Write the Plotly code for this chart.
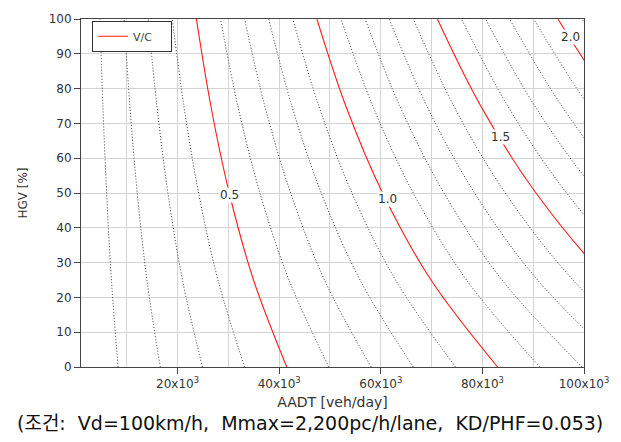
import plotly.graph_objects as go

# HGV share [%] at which each contour line was read
hgv = [0, 25, 50, 75, 100]

# V/C contour levels
vc_levels = [0.1, 0.2, 0.3, 0.4, 0.5, 0.6, 0.7, 0.8, 0.9, 1.0, 1.1,
             1.2, 1.3, 1.4, 1.5, 1.6, 1.7, 1.8, 1.9, 2.0, 2.1]

# AADT [x10^3 veh/day] of each V/C line at the HGV values above
aadt_k = [
    [8.3, 6.99, 6.04, 5.31, 4.74],
    [16.6, 13.98, 12.07, 10.62, 9.49],
    [24.9, 20.97, 18.11, 15.94, 14.23],
    [33.2, 27.96, 24.15, 21.25, 18.97],
    [41.5, 34.95, 30.18, 26.56, 23.71],
    [49.8, 41.94, 36.22, 31.87, 28.46],
    [58.1, 48.93, 42.26, 37.18, 33.20],
    [66.4, 55.92, 48.29, 42.50, 37.94],
    [74.7, 62.91, 54.33, 47.81, 42.69],
    [83.0, 69.89, 60.36, 53.12, 47.43],
    [91.3, 76.88, 66.40, 58.43, 52.17],
    [99.6, 83.87, 72.44, 63.74, 56.91],
    [107.9, 90.86, 78.47, 69.06, 61.66],
    [116.2, 97.85, 84.51, 74.37, 66.40],
    [124.5, 104.84, 90.55, 79.68, 71.14],
    [132.8, 111.83, 96.58, 84.99, 75.89],
    [141.1, 118.82, 102.62, 90.30, 80.63],
    [149.4, 125.81, 108.66, 95.62, 85.37],
    [157.7, 132.80, 114.69, 100.93, 90.11],
    [166.0, 139.79, 120.73, 106.24, 94.86],
    [174.3, 146.78, 126.76, 111.55, 99.60],
]

# Labelled (red) levels and their label positions
red_levels = [0.5, 1.0, 1.5, 2.0]
label_text = ["0.5", "1.0", "1.5", "2.0"]
label_x = [30.3, 61.3, 83.6, 97.3]
label_y = [49.3, 48.4, 66.2, 94.9]

x_tickvals = [20, 40, 60, 80, 100]
x_ticktext = ["20x10<sup>3</sup>", "40x10<sup>3</sup>", "60x10<sup>3</sup>",
              "80x10<sup>3</sup>", "100x10<sup>3</sup>"]

caption = ("(조건:\u00a0\u00a0Vd=100km/h,\u00a0\u00a0Mmax=2,200pc/h/lane,"
           "\u00a0\u00a0KD/PHF=0.053)")

fig = go.Figure()

# dotted lines first
for lvl, xs in zip(vc_levels, aadt_k):
    if any(abs(lvl - r) < 1e-9 for r in red_levels):
        continue
    fig.add_trace(go.Scatter(x=xs, y=hgv, mode="lines",
                             line=dict(color="#333333", width=1, dash="1px,2px", shape="spline"),
                             showlegend=False, hoverinfo="skip"))

first = True
for lvl, xs in zip(vc_levels, aadt_k):
    if not any(abs(lvl - r) < 1e-9 for r in red_levels):
        continue
    fig.add_trace(go.Scatter(x=xs, y=hgv, mode="lines", name="V/C\u00a0\u00a0\u00a0\u00a0",
                             line=dict(color="#ff1a1a", width=1.1, shape="spline"),
                             showlegend=first))
    first = False

for t, lx, ly in zip(label_text, label_x, label_y):
    fig.add_annotation(x=lx, y=ly, text=t, showarrow=False,
                       font=dict(family="DejaVu Sans", size=12, color="#333333"),
                       bgcolor="white", borderpad=0)

fig.add_annotation(xref="paper", yref="paper", x=0.456, y=-0.162,
                   text=caption,
                   showarrow=False, xanchor="center", yanchor="middle",
                   font=dict(family="DejaVu Sans, Noto Sans CJK KR", size=19, color="#111111"))

fig.update_layout(
    width=621, height=442,
    margin=dict(l=81, r=36, t=12, b=75),
    paper_bgcolor="white", plot_bgcolor="white",
    font=dict(family="DejaVu Sans", size=12, color="#333333"),
    legend=dict(x=0.022, y=0.995, xanchor="left", yanchor="top",
                bgcolor="white", bordercolor="#333333", borderwidth=1,
                font=dict(family="DejaVu Sans", size=11, color="#444444")),
    xaxis=dict(range=[1, 100], tickvals=x_tickvals, ticktext=x_ticktext,
               ticks="outside", ticklen=6, tickcolor="#444444",
               showline=True, linecolor="#444444", linewidth=1, mirror=True,
               showgrid=True, gridcolor="#d4d4d4", gridwidth=1,
               minor=dict(dtick=10, tick0=0, showgrid=True, gridcolor="#d4d4d4", ticks=""),
               zeroline=False,
               title=dict(text="AADT [veh/day]", standoff=6,
                          font=dict(family="DejaVu Sans", size=14, color="#333333"))),
    yaxis=dict(range=[0, 100], dtick=10, tick0=0,
               ticks="outside", ticklen=6, tickcolor="#444444",
               showline=True, linecolor="#444444", linewidth=1, mirror=True,
               showgrid=True, gridcolor="#d4d4d4", gridwidth=1, zeroline=False,
               title=dict(text="HGV [%]", standoff=18,
                          font=dict(family="DejaVu Sans", size=12, color="#333333"))),
)

fig.write_html("out.html")
